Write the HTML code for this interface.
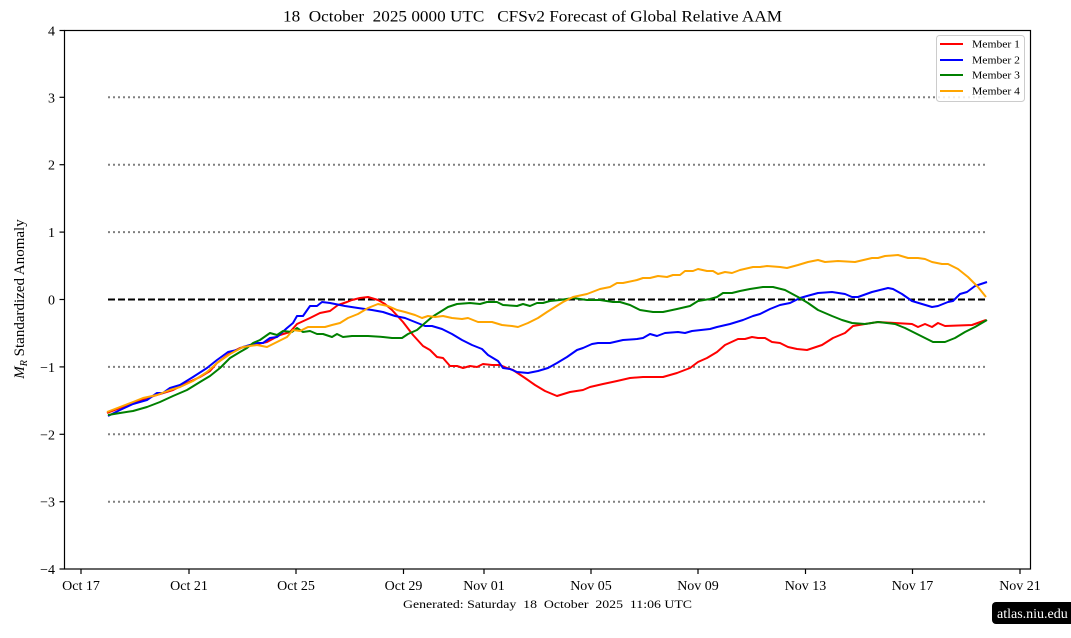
<!DOCTYPE html>
<html>
<head>
<meta charset="utf-8">
<style>
  html, body { margin:0; padding:0; background:#ffffff; }
  svg { display:block; }
  text { font-family: "Liberation Serif", "DejaVu Serif", serif; fill:#000; }
</style>
</head>
<body>
<svg width="1071" height="638" viewBox="0 0 1071 638" xmlns="http://www.w3.org/2000/svg">
  <rect x="0" y="0" width="1071" height="638" fill="#ffffff"/>

  <!-- Title -->
  <text x="283" y="21.5" font-size="16" textLength="499" lengthAdjust="spacingAndGlyphs" xml:space="preserve">18  October  2025 0000 UTC   CFSv2 Forecast of Global Relative AAM</text>

  <!-- grid dotted lines -->
  <g stroke="#808080" stroke-width="2" stroke-dasharray="2 3" fill="none">
    <line x1="108" y1="97.3" x2="986" y2="97.3"/>
    <line x1="108" y1="164.7" x2="986" y2="164.7"/>
    <line x1="108" y1="232.1" x2="986" y2="232.1"/>
    <line x1="108" y1="366.9" x2="986" y2="366.9"/>
    <line x1="108" y1="434.3" x2="986" y2="434.3"/>
    <line x1="108" y1="501.7" x2="986" y2="501.7"/>
  </g>
  <!-- zero dashed -->
  <line x1="108" y1="299.5" x2="986" y2="299.5" stroke="#000" stroke-width="2" stroke-dasharray="7 3"/>

  <!-- Series -->
  <g fill="none" stroke-width="2" stroke-linejoin="round" stroke-linecap="butt">
    <polyline stroke="#ff0000" points="107,413 120,408 133,403 147,398 160,394 173,390 187,383 200,377 210,371 217,363 230,353 240,348 253,345 267,342 280,335 290,332 297,324 310,318 320,313 330,311 338,305 347,302 352,300 360,298 368,297 378,300 385,304 392,310 403,322 413,335 423,346 430,350 437,357 443,358 450,366 457,366 463,368 470,366 477,367 483,364 492,365 500,365 507,368 513,370 525,378 535,385 545,391 557,396 570,392 583,390 590,387 603,384 617,381 630,378 643,377 663,377 677,373 690,368 698,362 707,358 717,352 725,345 738,339 745,339 752,337 758,338 765,338 772,342 780,343 788,347 797,349 807,350 813,348 822,345 833,338 845,333 853,326 865,324 878,322 895,323 912,324 918,327 925,324 932,327 938,323 945,326 972,325 986,320"/>
    <polyline stroke="#0000ff" points="108,416 120,410 133,404 147,400 157,393 163,393 170,388 180,385 193,377 207,368 217,360 228,352 237,350 243,347 257,343 263,343 270,338 277,337 287,328 293,323 297,316 303,316 310,306 317,306 322,302 330,303 345,306 358,308 372,310 383,312 395,316 405,318 415,322 425,326 432,326 442,329 452,334 462,340 472,345 482,349 488,355 498,361 503,368 510,369 517,372 528,373 538,371 548,368 557,363 567,357 577,350 583,348 592,344 598,343 610,343 623,340 637,339 643,338 650,334 657,336 665,333 678,332 685,333 692,331 710,329 717,327 730,324 743,320 753,316 760,314 770,309 780,305 790,303 800,298 807,296 818,293 832,292 845,294 852,297 858,297 872,292 888,288 893,289 902,294 912,301 922,304 932,307 938,306 948,302 953,301 960,294 967,292 975,286 987,282"/>
    <polyline stroke="#008000" points="108,415 120,413 133,411 147,407 160,402 173,396 187,390 200,382 210,376 220,368 230,358 240,352 247,348 253,343 260,340 270,333 277,335 283,331 292,332 297,328 303,332 310,331 317,334 323,334 332,337 337,334 343,337 352,336 368,336 383,337 392,338 402,338 408,334 417,330 425,323 432,317 440,312 448,307 457,304 470,303 480,304 487,302 497,302 503,305 517,306 523,304 530,306 537,303 543,303 550,301 560,300 573,298 587,300 600,300 613,302 620,302 630,305 640,310 653,312 663,312 677,309 690,306 698,301 710,299 717,297 723,293 732,293 740,291 750,289 763,287 773,287 785,290 798,297 808,303 818,310 832,316 842,320 852,323 865,324 878,322 895,324 905,328 915,333 925,338 933,342 945,342 955,338 965,332 975,327 987,320"/>
    <polyline stroke="#ffa500" points="107,412 120,407 133,402 143,398 157,395 170,390 180,387 193,381 207,372 217,363 230,354 243,347 257,345 267,347 277,342 287,337 293,330 300,331 308,327 317,327 325,327 332,325 340,323 348,318 358,314 368,308 378,304 388,306 397,310 405,312 415,315 422,318 428,316 435,317 443,316 452,318 462,319 468,318 478,322 492,322 502,325 512,326 518,327 528,323 538,318 547,312 555,307 563,302 573,297 587,294 600,289 610,287 617,283 623,283 637,280 643,278 650,278 658,276 667,277 673,275 680,275 685,271 693,271 698,269 707,271 713,271 718,274 725,272 732,273 740,270 753,267 760,267 767,266 780,267 787,268 798,265 808,262 818,260 825,262 838,261 855,262 872,258 878,258 885,256 898,255 908,258 918,258 925,259 932,262 942,264 948,264 958,269 968,277 978,287 986,297"/>
  </g>

  <!-- Axes frame -->
  <rect x="64.5" y="30.5" width="966" height="538.5" fill="none" stroke="#000" stroke-width="1.2"/>

  <!-- Y ticks -->
  <g stroke="#000" stroke-width="1.2">
    <line x1="59.5" y1="30.5" x2="64.5" y2="30.5"/>
    <line x1="59.5" y1="97.3" x2="64.5" y2="97.3"/>
    <line x1="59.5" y1="164.7" x2="64.5" y2="164.7"/>
    <line x1="59.5" y1="232.1" x2="64.5" y2="232.1"/>
    <line x1="59.5" y1="299.5" x2="64.5" y2="299.5"/>
    <line x1="59.5" y1="366.9" x2="64.5" y2="366.9"/>
    <line x1="59.5" y1="434.3" x2="64.5" y2="434.3"/>
    <line x1="59.5" y1="501.7" x2="64.5" y2="501.7"/>
    <line x1="59.5" y1="569" x2="64.5" y2="569"/>
  </g>
  <g font-size="14" text-anchor="end">
    <text x="55" y="35.5">4</text>
    <text x="55" y="102.3">3</text>
    <text x="55" y="169.7">2</text>
    <text x="55" y="237.1">1</text>
    <text x="55" y="304.5">0</text>
    <text x="55" y="371.9">−1</text>
    <text x="55" y="439.3">−2</text>
    <text x="55" y="506.7">−3</text>
    <text x="55" y="574">−4</text>
  </g>

  <!-- X ticks -->
  <g stroke="#000" stroke-width="1.2">
    <line x1="81" y1="569" x2="81" y2="574"/>
    <line x1="189" y1="569" x2="189" y2="574"/>
    <line x1="296" y1="569" x2="296" y2="574"/>
    <line x1="403.5" y1="569" x2="403.5" y2="574"/>
    <line x1="484" y1="569" x2="484" y2="574"/>
    <line x1="591" y1="569" x2="591" y2="574"/>
    <line x1="698" y1="569" x2="698" y2="574"/>
    <line x1="805.5" y1="569" x2="805.5" y2="574"/>
    <line x1="912.5" y1="569" x2="912.5" y2="574"/>
    <line x1="1020" y1="569" x2="1020" y2="574"/>
  </g>
  <g font-size="14" text-anchor="middle">
    <text x="81" y="590">Oct 17</text>
    <text x="189" y="590">Oct 21</text>
    <text x="296" y="590">Oct 25</text>
    <text x="403.5" y="590">Oct 29</text>
    <text x="484" y="590">Nov 01</text>
    <text x="591" y="590">Nov 05</text>
    <text x="698" y="590">Nov 09</text>
    <text x="805.5" y="590">Nov 13</text>
    <text x="912.5" y="590">Nov 17</text>
    <text x="1020" y="590">Nov 21</text>
  </g>

  <!-- Y label -->
  <text transform="translate(24,299) rotate(-90)" text-anchor="middle" font-size="15"><tspan font-style="italic">M</tspan><tspan font-style="italic" font-size="10" dy="3">R</tspan><tspan dy="-3"> Standardized Anomaly</tspan></text>

  <!-- Generated -->
  <text x="403" y="608" font-size="12" textLength="289" lengthAdjust="spacingAndGlyphs" xml:space="preserve">Generated: Saturday  18  October  2025  11:06 UTC</text>

  <!-- Legend -->
  <rect x="936.5" y="35.5" width="88" height="66" rx="3" ry="3" fill="#ffffff" fill-opacity="0.85" stroke="#cccccc" stroke-width="1"/>
  <g stroke-width="2">
    <line x1="940" y1="44" x2="963" y2="44" stroke="#ff0000"/>
    <line x1="940" y1="60" x2="963" y2="60" stroke="#0000ff"/>
    <line x1="940" y1="75" x2="963" y2="75" stroke="#008000"/>
    <line x1="940" y1="91" x2="963" y2="91" stroke="#ffa500"/>
  </g>
  <g font-size="10">
    <text x="972" y="47.5" textLength="48" lengthAdjust="spacingAndGlyphs">Member 1</text>
    <text x="972" y="63.5" textLength="48" lengthAdjust="spacingAndGlyphs">Member 2</text>
    <text x="972" y="78.5" textLength="48" lengthAdjust="spacingAndGlyphs">Member 3</text>
    <text x="972" y="94.5" textLength="48" lengthAdjust="spacingAndGlyphs">Member 4</text>
  </g>

  <!-- Watermark -->
  <rect x="992" y="602" width="90" height="22" rx="4" ry="4" fill="#000000"/>
  <text x="997" y="618" font-size="14" fill="#ffffff" style="fill:#ffffff">atlas.niu.edu</text>
</svg>
</body>
</html>
